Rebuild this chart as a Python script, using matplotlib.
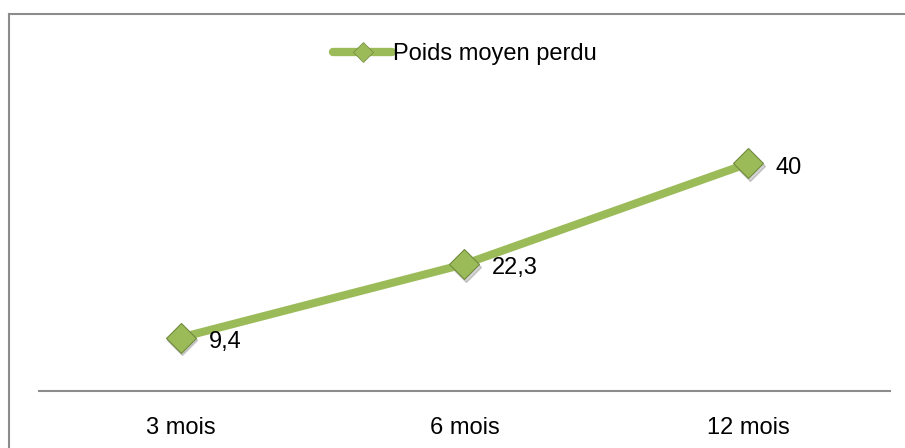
import matplotlib
matplotlib.use("Agg")
import matplotlib.pyplot as plt
import matplotlib.transforms as mtransforms
from matplotlib.lines import Line2D

categories = ["3 mois", "6 mois", "12 mois"]
poids_perdu = [9.4, 22.3, 40]
labels = ["9,4", "22,3", "40"]
serie_name = "Poids moyen perdu"

green = "#9BBB59"
green_dark = "#71893F"

plt.rcParams['font.family'] = ['Liberation Sans', 'DejaVu Sans']

fig = plt.figure(figsize=(9.05, 4.48), dpi=100)
ax = fig.add_axes([39 / 905, (448 - 391) / 448, 851 / 905, 256 / 448])

x = list(range(len(categories)))

# shadow of the markers
shadow = mtransforms.offset_copy(ax.transData, fig=fig, x=1.5, y=-2.5, units='dots')
ax.plot(x, poids_perdu, linestyle='none', marker='D', markersize=15,
        color='#555555', alpha=0.25, transform=shadow, zorder=2)

ax.plot(x, poids_perdu, color=green, linewidth=5.8, solid_capstyle='round',
        marker='D', markersize=15, markerfacecolor=green,
        markeredgecolor=green_dark, markeredgewidth=0.8, zorder=3)

for xi, v, lab in zip(x, poids_perdu, labels):
    ax.annotate(lab, (xi, v), xytext=(20, -3), textcoords='offset points',
                ha='left', va='center', fontsize=17, color='black')

ax.set_xlim(-0.5, len(categories) - 0.5)
ax.set_ylim(0, 45)
ax.set_xticks(x)
ax.set_xticklabels(categories, fontsize=17)
ax.tick_params(axis='x', length=0, pad=19)
ax.set_yticks([])
for s in ['top', 'right', 'left']:
    ax.spines[s].set_visible(False)
ax.spines['bottom'].set_color('#8C8C8C')
ax.spines['bottom'].set_linewidth(1.5)

# legend at the top
handle = Line2D([], [], color=green, linewidth=6, solid_capstyle='round',
                marker='D', markersize=10, markerfacecolor=green,
                markeredgecolor=green_dark, markeredgewidth=0.5)
fig.legend([handle], [serie_name], loc='center', bbox_to_anchor=(0.514, 0.879),
           frameon=False, fontsize=17, handlelength=2.5, handletextpad=0.05)

# chart border (left and top only are visible)
fig.add_artist(Line2D([9 / 905, 9 / 905], [0, (448 - 14) / 448],
                      transform=fig.transFigure, color='#8C8C8C', linewidth=1.5))
fig.add_artist(Line2D([9 / 905, 1], [(448 - 14) / 448, (448 - 14) / 448],
                      transform=fig.transFigure, color='#8C8C8C', linewidth=1.5))

fig.savefig("out.png", dpi=100)
